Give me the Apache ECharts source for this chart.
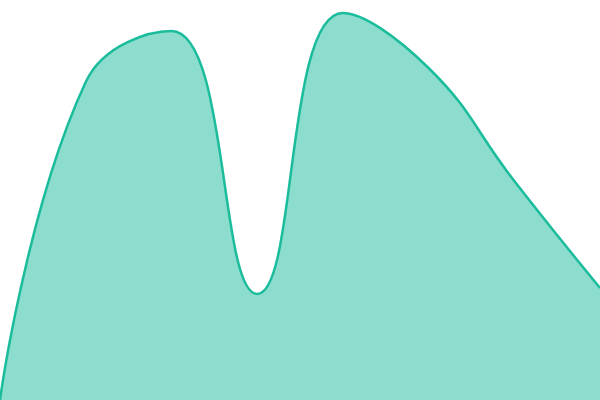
<!DOCTYPE html>
<html>
<head>
<meta charset="UTF-8" />
<script type="text/javascript" src="https://cdn.jsdelivr.net/npm/echarts@6/dist/echarts.min.js"></script>
<style>
	html, body { margin: 0; padding: 0; background: #fff; }
</style>
</head>
<body>
	<div id="chartmain" style="width: 600px; height: 400px;"></div>

	<script type="text/javascript">
		// data
		var categories = ['1', '2', '3', '4', '5', '6', '7', '8'];
		var values = [0, 318, 369, 106, 387, 332, 219, 112];

		var option = {
			animation : false,
			grid : { left : 0, right : 0, top : 0, bottom : 0 },
			xAxis : {
				type : 'category',
				boundaryGap : false,
				data : categories,
				show : false
			},
			yAxis : {
				type : 'value',
				min : 0,
				max : 400,
				show : false
			},
			series : [ {
				type : 'line',
				data : values,
				smooth : 0.45,
				smoothConstraint : false,
				symbol : 'none',
				lineStyle : { color : '#1abc9c', width : 2.5 },
				areaStyle : { color : '#1abc9c', opacity : 0.5 }
			} ]
		};

		var myChart = echarts.init(document.getElementById('chartmain'));
		myChart.setOption(option);
	</script>
</body>
</html>
